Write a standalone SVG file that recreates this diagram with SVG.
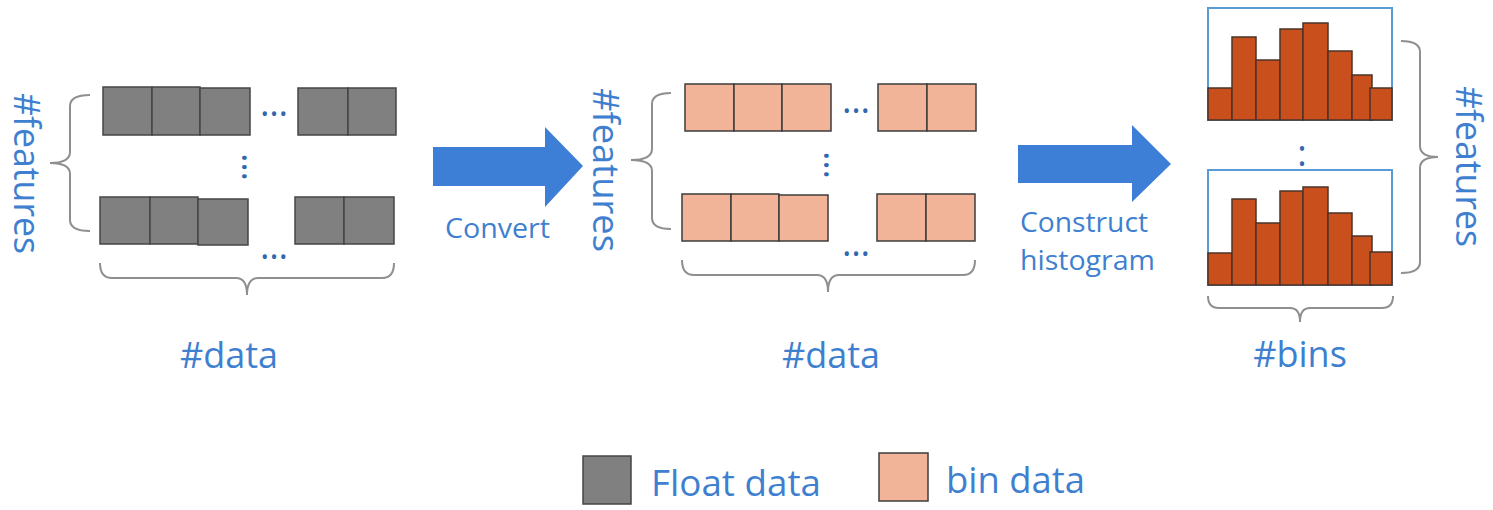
<svg xmlns="http://www.w3.org/2000/svg" width="1493" height="510" viewBox="0 0 1493 510">
<style>
.t{font-family:"Open Sans","Noto Sans","Liberation Sans",sans-serif;fill:#3F7FCF}
.big{font-size:36px}
.mid{font-size:28px}
.dots{font-family:"Open Sans","Noto Sans","Liberation Sans",sans-serif;font-size:36px;fill:#2F67B0}
.fl{fill:#808080;stroke:#454545;stroke-width:1.5}
.bn{fill:#F2B499;stroke:#3d3d3d;stroke-width:1.5}
.bar{fill:#C9501D;stroke:#4a3328;stroke-width:1.5}
.box{fill:none;stroke:#5B9BD5;stroke-width:2}
.brace{fill:none;stroke:#8f8f8f;stroke-width:2}
.arrow{fill:#3D7FD6}
</style>
<rect width="1493" height="510" fill="#ffffff"/>

<g id="float-grid">
<rect class="fl" x="103" y="87" width="49" height="48"/>
<rect class="fl" x="152" y="87" width="48" height="48"/>
<rect class="fl" x="200" y="88" width="50" height="47"/>
<rect class="fl" x="298" y="88" width="50" height="47"/>
<rect class="fl" x="348" y="88" width="48" height="47"/>
<rect class="fl" x="100" y="197" width="50" height="47"/>
<rect class="fl" x="150" y="197" width="48" height="47"/>
<rect class="fl" x="198" y="199" width="50" height="46"/>
<rect class="fl" x="295" y="197" width="49" height="47"/>
<rect class="fl" x="344" y="197" width="50" height="47"/>
<text class="dots" x="260" y="116">…</text>
<text class="dots" transform="translate(242,153) rotate(90)">…</text>
<text class="dots" x="260" y="259">…</text>
</g>

<g id="float-features">
<text class="t big" transform="translate(14,93) rotate(90)" textLength="161" lengthAdjust="spacingAndGlyphs">#features</text>
</g>
<g id="float-data-label">
<text class="t big" x="229" y="368" text-anchor="middle">#data</text>
</g>

<g id="bin-grid">
<rect class="bn" x="685" y="84" width="49" height="47"/>
<rect class="bn" x="734" y="84" width="48" height="47"/>
<rect class="bn" x="782" y="84" width="49" height="47"/>
<rect class="bn" x="878" y="84" width="49" height="47"/>
<rect class="bn" x="927" y="84" width="49" height="47"/>
<rect class="bn" x="682" y="194" width="49" height="47"/>
<rect class="bn" x="731" y="194" width="48" height="47"/>
<rect class="bn" x="779" y="195" width="49" height="46"/>
<rect class="bn" x="877" y="194" width="49" height="47"/>
<rect class="bn" x="926" y="194" width="49" height="47"/>
<text class="dots" x="842" y="113">…</text>
<text class="dots" transform="translate(824,151) rotate(90)">…</text>
<text class="dots" x="842" y="256">…</text>
</g>

<g id="bin-features">
<text class="t big" transform="translate(593,88) rotate(90)" textLength="164" lengthAdjust="spacingAndGlyphs">#features</text>
</g>
<g id="bin-data-label">
<text class="t big" x="831" y="368" text-anchor="middle">#data</text>
</g>

<g id="histograms">
<rect class="box" x="1208" y="8" width="184" height="112"/>
<rect class="bar" x="1208" y="88" width="24" height="32"/>
<rect class="bar" x="1232" y="37" width="24" height="83"/>
<rect class="bar" x="1256" y="60" width="24" height="60"/>
<rect class="bar" x="1280" y="29" width="23" height="91"/>
<rect class="bar" x="1303" y="23" width="25" height="97"/>
<rect class="bar" x="1328" y="51" width="24" height="69"/>
<rect class="bar" x="1352" y="75" width="20" height="45"/>
<rect class="bar" x="1370" y="88" width="22" height="32"/>

<rect class="box" x="1208" y="170" width="184" height="115"/>
<rect class="bar" x="1208" y="253" width="24" height="32"/>
<rect class="bar" x="1232" y="199" width="24" height="86"/>
<rect class="bar" x="1256" y="223" width="24" height="62"/>
<rect class="bar" x="1280" y="191" width="23" height="94"/>
<rect class="bar" x="1303" y="187" width="25" height="98"/>
<rect class="bar" x="1328" y="213" width="24" height="72"/>
<rect class="bar" x="1352" y="236" width="20" height="49"/>
<rect class="bar" x="1370" y="252" width="22" height="33"/>
<text class="dots" x="1302" y="166" text-anchor="middle" font-size="26">:</text>
</g>

<g id="hist-features">
<text class="t big" transform="translate(1456,86) rotate(90)" textLength="161" lengthAdjust="spacingAndGlyphs">#features</text>
</g>
<g id="bins-label">
<text class="t big" x="1300" y="367" text-anchor="middle">#bins</text>
</g>

<g id="connectors">
<path class="arrow" d="M433 147 L545 147 L545 127 L583 166 L545 207 L545 186 L433 186 Z"/>
<path class="arrow" d="M1018 145 L1132 145 L1132 125 L1171 164 L1132 202 L1132 183 L1018 183 Z"/>
<text class="t mid" x="445" y="238" textLength="105" lengthAdjust="spacingAndGlyphs">Convert</text>
<text class="t mid" x="1020" y="232" textLength="128" lengthAdjust="spacingAndGlyphs">Construct</text>
<text class="t mid" x="1020" y="270" textLength="135" lengthAdjust="spacingAndGlyphs">histogram</text>
</g>

<g id="braces">
<path class="brace" d="M90 95 Q70 95 70 106 L70 152 Q70 163 50 163 Q70 163 70 174 L70 220 Q70 231 90 231"/>
<path class="brace" d="M100 263 Q100 278 112 278 L236 278 Q247 278 247 295 Q247 278 258 278 L382 278 Q394 278 394 263"/>
<path class="brace" d="M671 93 Q652 93 652 104 L652 149 Q652 160 631 160 Q652 160 652 171 L652 218 Q652 229 671 229"/>
<path class="brace" d="M682 260 Q682 275 694 275 L817 275 Q828 275 828 292 Q828 275 839 275 L963 275 Q975 275 975 260"/>
<path class="brace" d="M1401 41 Q1420 41 1420 52 L1420 146 Q1420 157 1438 157 Q1420 157 1420 168 L1420 262 Q1420 273 1401 273"/>
<path class="brace" d="M1208 296 Q1208 308 1219 308 L1290 308 Q1300 308 1300 322 Q1300 308 1310 308 L1382 308 Q1393 308 1393 296"/>
</g>

<g id="legend">
<rect class="fl" x="583" y="456" width="48" height="48"/>
<text class="t" x="651" y="496" font-size="36" textLength="170" lengthAdjust="spacingAndGlyphs">Float data</text>
<rect class="bn" x="879" y="453" width="49" height="48"/>
<text class="t" x="946" y="493" font-size="36" textLength="139" lengthAdjust="spacingAndGlyphs">bin data</text>
</g>
</svg>
